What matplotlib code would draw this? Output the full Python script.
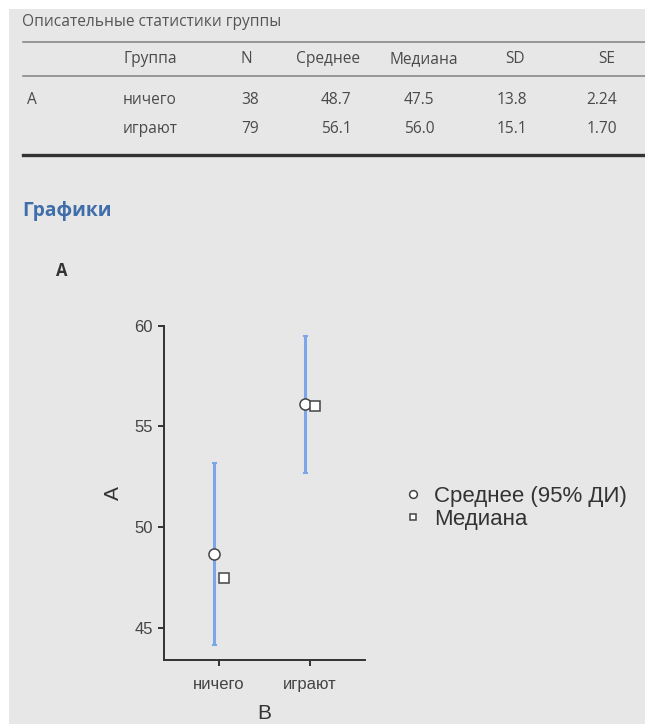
import matplotlib
matplotlib.use('Agg')
import matplotlib.pyplot as plt
from matplotlib.lines import Line2D
from matplotlib.patches import Rectangle

# descriptives (from the jamovi-style output)
variable = 'A'
groups = ['ничего', 'играют']
n = [38, 79]
means = [48.7, 56.1]
medians = [47.5, 56.0]
sds = [13.8, 15.1]
ses = [2.24, 1.70]
ci_low = [44.2, 52.7]
ci_high = [53.2, 59.5]

col_names = ['Группа', 'N', 'Среднее', 'Медиана', 'SD', 'SE']

W, H = 645, 724
BG = '#e7e7e7'
TXT = '#4a4a4a'
TABLE_FONT = 'Open Sans'
PLOT_FONT = ['Liberation Sans', 'DejaVu Sans']
TFS = 11.2


def fx(x):
    return x / W


def fy(y):
    return 1 - y / H


fig = plt.figure(figsize=(W / 100, H / 100), dpi=100, facecolor='white')
fig.add_artist(Rectangle((fx(9), 0), 1 - fx(9), fy(9), transform=fig.transFigure,
                         facecolor=BG, edgecolor='none', zorder=0))

# ---- table ----
fig.text(fx(22), fy(22), 'Описательные статистики группы', fontsize=TFS,
         family=TABLE_FONT, color='#555555', va='center', ha='left')
for y, lw, c in [(41.5, 1.2, '#8a8a8a'), (75.5, 1.2, '#8a8a8a'), (155, 2.4, '#333333')]:
    fig.add_artist(Line2D([fx(23), 1], [fy(y), fy(y)], transform=fig.transFigure,
                          lw=lw, color=c))

head_x = [123, 246, 328, 424, 515, 607]
head_ha = ['left', 'center', 'center', 'center', 'center', 'center']
for name, x, ha in zip(col_names, head_x, head_ha):
    fig.text(fx(x), fy(59), name, fontsize=TFS, family=TABLE_FONT, color=TXT,
             va='center', ha=ha)

val_x = [250, 336, 419, 512, 602]
row_y = [100, 129]
fig.text(fx(32), fy(row_y[0]), variable, fontsize=TFS, family=TABLE_FONT,
         color=TXT, va='center', ha='center')
for i, g in enumerate(groups):
    y = fy(row_y[i])
    fig.text(fx(123), y, g, fontsize=TFS, family=TABLE_FONT, color=TXT,
             va='center', ha='left')
    cells = [f'{n[i]}', f'{means[i]:.1f}', f'{medians[i]:.1f}',
             f'{sds[i]:.1f}', f'{ses[i]:.2f}']
    for s, x in zip(cells, val_x):
        fig.text(fx(x), y, s, fontsize=TFS, family=TABLE_FONT, color=TXT,
                 va='center', ha='center')

# ---- headings ----
fig.text(fx(22), fy(211), 'Графики', fontsize=13.8, family=TABLE_FONT,
         weight='bold', color='#3f6eab', va='center', ha='left')
fig.text(fx(56), fy(271), variable, fontsize=12, family=TABLE_FONT,
         weight='bold', color='#333333', va='center', ha='left')

# ---- plot ----
ax = fig.add_axes([fx(164), fy(660), fx(365) - fx(164), fy(325.5) - fy(660)])
ax.set_facecolor('none')
xs = [1, 2]
dodge = 0.05
for i in range(len(groups)):
    ax.plot([xs[i] - dodge] * 2, [ci_low[i], ci_high[i]], color='#7ba7ea',
            lw=2.2, solid_capstyle='butt', zorder=2)
    for yv in (ci_low[i], ci_high[i]):
        ax.plot([xs[i] - dodge - 0.012, xs[i] - dodge + 0.012], [yv, yv],
                color='#7ba7ea', lw=1.5, zorder=2)
mean_h, = ax.plot([x - dodge for x in xs], means, 'o', ms=8, mfc='white',
                  mec='#444444', mew=1.1, ls='none', zorder=3)
med_h, = ax.plot([x + dodge for x in xs], medians, 's', ms=6.8, mfc='white',
                 mec='#444444', mew=1.1, ls='none', zorder=3)

ax.set_xlim(0.396, 2.604)
ax.set_ylim(43.44, 60)
ax.set_xticks(xs)
ax.set_xticklabels(groups)
ax.set_yticks([45, 50, 55, 60])
for s in ['top', 'right']:
    ax.spines[s].set_visible(False)
for s in ['left', 'bottom']:
    ax.spines[s].set_color('#333333')
    ax.spines[s].set_linewidth(1.4)
ax.tick_params(length=4, width=1.4, color='#333333', labelcolor='#444444',
               labelsize=12, pad=4)
ax.tick_params(axis='x', pad=8)
for lab in ax.get_xticklabels() + ax.get_yticklabels():
    lab.set_family(PLOT_FONT)
ax.set_xlabel('B', fontsize=15, family=PLOT_FONT, color='#333333', labelpad=9)
ax.set_ylabel('A', fontsize=15, family=PLOT_FONT, color='#333333', labelpad=8)

fig.legend([mean_h, med_h], ['Среднее (95% ДИ)', 'Медиана'],
           loc='center left', bbox_to_anchor=(fx(384), fy(508)),
           frameon=False, prop={'family': PLOT_FONT, 'size': 16},
           handlelength=0.8, handletextpad=0.55, labelspacing=0.1,
           markerscale=0.7, labelcolor='#333333')

fig.savefig('out.png', dpi=100, facecolor='white')
